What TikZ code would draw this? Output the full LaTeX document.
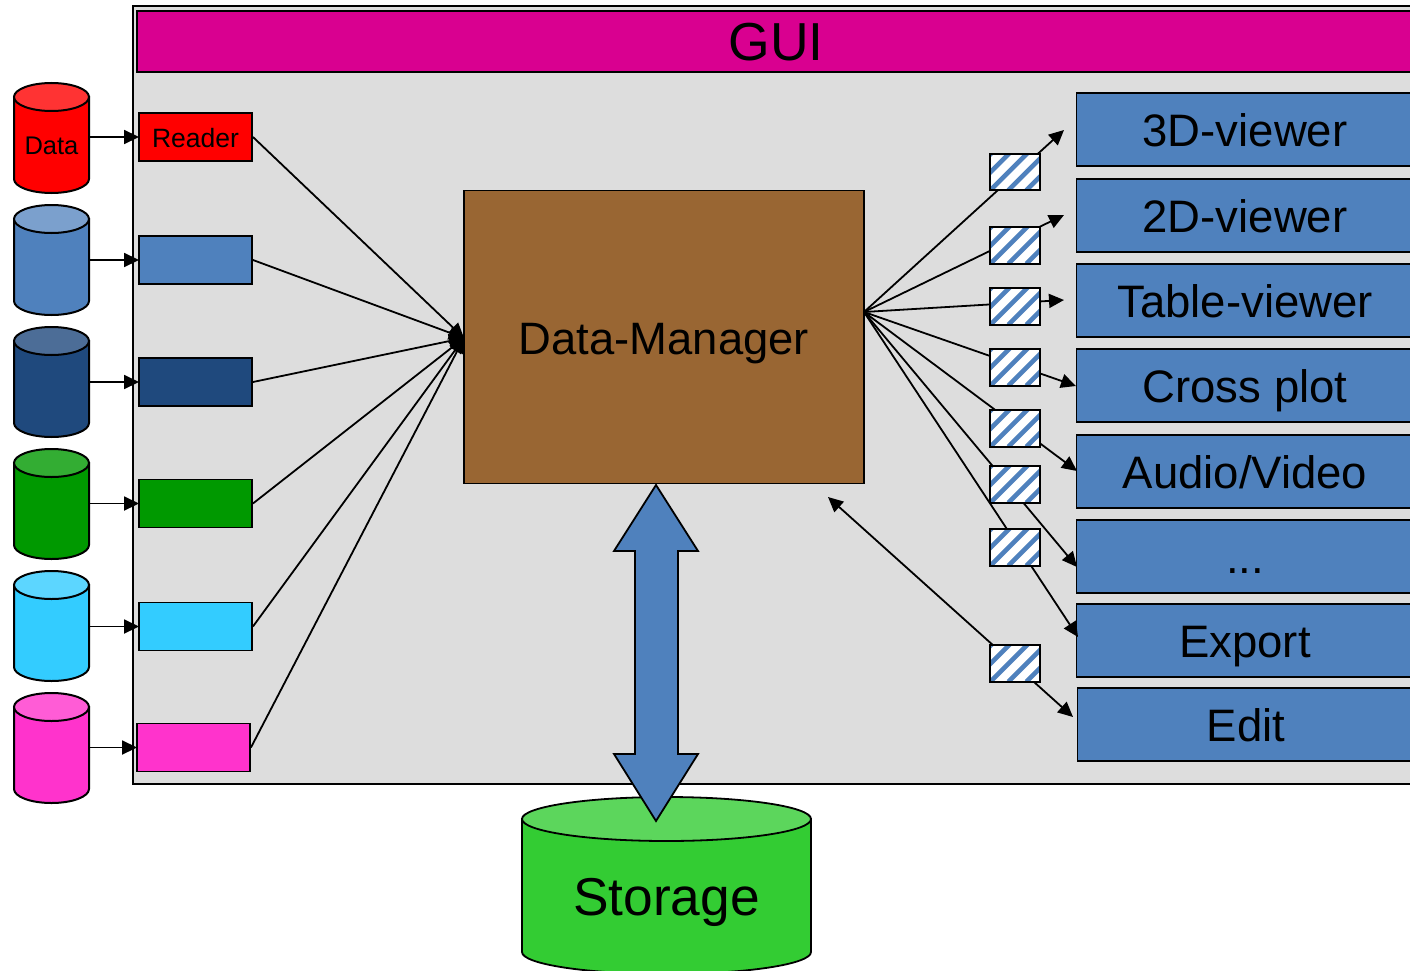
\documentclass[tikz,border=0pt]{standalone}
\usepackage{fontspec}
\setmainfont{Liberation Sans}
\usetikzlibrary{arrows.meta}
\definecolor{guibg}{HTML}{DDDDDD}
\definecolor{guibar}{HTML}{D90090}
\definecolor{vblue}{HTML}{4F81BD}
\definecolor{vnavy}{HTML}{1F497D}
\definecolor{vgreen}{HTML}{009900}
\definecolor{vcyan}{HTML}{33CCFF}
\definecolor{vpink}{HTML}{FF33CC}
\definecolor{vlime}{HTML}{33CC33}
\definecolor{mgrbrown}{HTML}{996633}
\newcommand{\fs}[1]{\fontsize{#1}{#1}\selectfont}
% name, centre x, top y, width, total height, end radius, body colour, end colour, text
\newcommand{\drum}[9]{%
  \path[drumline,fill=#7] ({#2-#4/2},{#3+#6}) -- ({#2-#4/2},{#3+#5-#6})
    arc[start angle=180,end angle=360,x radius=#4/2*1pt,y radius=#6*1pt]
    -- ({#2+#4/2},{#3+#6}) -- cycle;
  \path[drumline,fill=#8] (#2,{#3+#6}) ellipse[x radius=#4/2*1pt,y radius=#6*1pt];
  \node[drumlabel,minimum width=#4*1pt,minimum height=#5*1pt] (#1) at (#2,{#3+#5/2}) {#9};
}
\tikzset{
  x=1pt,y=-1pt,
  conn/.style={black,line width=1.8pt,-{Triangle[length=15pt,width=14pt]}},
  connb/.style={black,line width=1.8pt,{Triangle[length=15pt,width=14pt]}-{Triangle[length=15pt,width=14pt]}},
  readerbox/.style={draw=black,line width=1.9pt,inner sep=0pt,minimum width=113pt,minimum height=48pt,font=\fs{26.5},text height=20pt,text depth=0pt},
  viewbox/.style={draw=black,line width=1.9pt,fill=vblue,inner sep=0pt,minimum width=337pt,minimum height=72.5pt,font=\fs{45.5},text height=34pt,text depth=0pt},
  drumline/.style={draw=black,line width=2pt},
  drumlabel/.style={inner sep=0pt,font=\fs{25.5},text height=33pt,text depth=0pt},
  hatchbox/.style={draw=black,line width=1.9pt,fill=white,inner sep=0pt,minimum width=49.5pt,minimum height=36.5pt,
    path picture={
      \foreach \k in {-4,...,6}{
        \draw[vblue,line width=4.6pt] ([xshift=\k*18pt]path picture bounding box.south west)
          -- ++(50pt,50pt);
      }
    }},
}
\begin{document}
\begin{tikzpicture}
\useasboundingbox (0,0) rectangle (1410,971);
\clip (0,0) rectangle (1410,971);
% GUI frame
\node[draw=black,line width=1.9pt,fill=guibg,inner sep=0pt,minimum width=1290pt,minimum height=778pt] (gui) at (778,395) {};
\node[draw=black,line width=1.9pt,fill=guibar,inner sep=0pt,minimum width=1278pt,minimum height=61pt,font=\fs{53.5},text height=38pt,text depth=0pt] (bar) at (776,41.5) {GUI};
% Storage
\begin{scope}[drumline/.style={draw=black,line width=1.8pt},drumlabel/.style={inner sep=0pt,font=\fs{53.3},text height=59pt,text depth=0pt}]
\drum{storage}{666.5}{797}{289}{177}{22}{vlime}{vlime!80!white}{Storage}
\end{scope}
% Manager
\node[draw=black,line width=1.9pt,fill=mgrbrown,inner sep=0pt,minimum width=400pt,minimum height=293pt,font=\fs{45.4},text height=35pt,text depth=0pt] (mgr) at (664,337) {Data-Manager};
% Big double arrow
\draw[black,line width=1.8pt,fill=vblue] (656,485) -- (698,551) -- (678,551) -- (678,754) -- (698,754) -- (656,821) -- (614,754) -- (635,754) -- (635,551) -- (614,551) -- cycle;
% Cylinders
\drum{c1}{51.5}{83}{75}{110}{14}{red}{red!80!white}{Data}
\drum{c2}{51.5}{205}{75}{110}{14}{vblue}{vblue!75!white}{}
\drum{c3}{51.5}{327}{75}{110}{14}{vnavy}{vnavy!80!white}{}
\drum{c4}{51.5}{449}{75}{110}{14}{vgreen}{vgreen!80!white}{}
\drum{c5}{51.5}{571}{75}{110}{14}{vcyan}{vcyan!80!white}{}
\drum{c6}{51.5}{693}{75}{110}{14}{vpink}{vpink!80!white}{}
% Readers
\node[readerbox,fill=red] (r1) at (195.5,137) {Reader};
\node[readerbox,fill=vblue] (r2) at (195.5,260) {};
\node[readerbox,fill=vnavy] (r3) at (195.5,382) {};
\node[readerbox,fill=vgreen] (r4) at (195.5,503.5) {};
\node[readerbox,fill=vcyan] (r5) at (195.5,626.5) {};
\node[readerbox,fill=vpink] (r6) at (193.5,747.5) {};
% Viewers
\node[viewbox] (v1) at (1245,129.5) {3D-viewer};
\node[viewbox] (v2) at (1245,215.5) {2D-viewer};
\node[viewbox] (v3) at (1245,300.5) {Table-viewer};
\node[viewbox] (v4) at (1245,385.5) {Cross plot};
\node[viewbox] (v5) at (1245,471.5) {Audio/Video};
\node[viewbox] (v6) at (1245,556.5) {...};
\node[viewbox] (v7) at (1245,640.5) {Export};
\node[viewbox] (v8) at (1246,724.5) {Edit};
% Free ends
\coordinate (dmin) at (464,338);
\coordinate (dmout) at (864,312);
\coordinate (e1) at (1064,130);
\coordinate (e2) at (1064,215);
\coordinate (e3) at (1064,300);
\coordinate (e4) at (1076,386);
\coordinate (e5) at (1077,471);
\coordinate (e6) at (1077,567);
\coordinate (e7) at (1078,637);
\coordinate (e8a) at (828,497);
\coordinate (e8b) at (1073,717);
% Connectors
\foreach \i in {1,...,6}{
  \draw[conn] (c\i.east |- r\i.east) -- ([xshift=1pt]r\i.west);
  \draw[conn] (r\i.east) -- (dmin);
}
\foreach \i in {1,...,7}{
  \draw[conn] (dmout) -- (e\i);
}
\draw[connb] (e8a) -- (e8b);
% Hatched boxes
\node[hatchbox] (h1) at (1015,172) {};
\node[hatchbox] (h2) at (1015,245.5) {};
\node[hatchbox] (h3) at (1015,306.5) {};
\node[hatchbox] (h4) at (1015,367.5) {};
\node[hatchbox] (h5) at (1015,428.5) {};
\node[hatchbox] (h6) at (1015,484.5) {};
\node[hatchbox] (h7) at (1015,547.5) {};
\node[hatchbox] (h8) at (1015,663.5) {};
\end{tikzpicture}
\end{document}
